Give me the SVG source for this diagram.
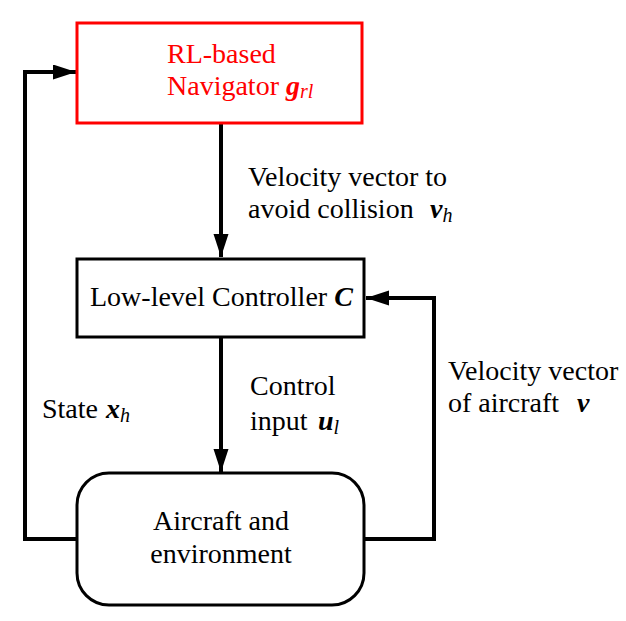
<svg xmlns="http://www.w3.org/2000/svg" width="626" height="621" viewBox="0 0 626 621" font-family="'Liberation Serif', 'Times New Roman', 'DejaVu Serif', serif">
<defs>
<style>
text{font-family:'Liberation Serif','Times New Roman','DejaVu Serif',serif;font-size:28px;fill:#000}
.red{fill:#ff0000}
.m{font-weight:bold;font-style:italic}
.s{font-style:italic;font-size:20px}
.box{fill:#fff;stroke:#000;stroke-width:3}
.line{fill:none;stroke:#000;stroke-width:4}
</style>
<marker id="ah" markerUnits="userSpaceOnUse" markerWidth="24" markerHeight="16" refX="23" refY="7.5" orient="auto">
<path d="M0,0 L23,7.5 L0,15 Z" fill="#000"/>
</marker>
</defs>
<rect width="626" height="621" fill="#fff"/>
<g id="connectors">
<path class="line" d="M221,124 V257" marker-end="url(#ah)"/>
<path class="line" d="M221,338 V472" marker-end="url(#ah)"/>
<path class="line" d="M77,539 H25 V72 H76" marker-end="url(#ah)"/>
<path class="line" d="M364,539 H434 V298 H366" marker-end="url(#ah)"/>
</g>
<g id="navigator">
<rect x="77" y="23" width="285" height="100" fill="#fff" stroke="#ff0000" stroke-width="3"/>
<text class="red" x="167" y="63">RL-based</text>
<text class="red" x="167" y="95">Navigator <tspan class="m">g</tspan><tspan class="s" dy="3">rl</tspan></text>
</g>
<g id="controller">
<rect class="box" x="77" y="259" width="287" height="78"/>
<text x="90" y="306">Low-level Controller <tspan class="m">C</tspan></text>
</g>
<g id="aircraft">
<rect class="box" x="77" y="473" width="287" height="132" rx="32" ry="32"/>
<text x="221" y="530" text-anchor="middle">Aircraft and</text>
<text x="221" y="563" text-anchor="middle">environment</text>
</g>
<g id="labels">
<text x="248" y="186">Velocity vector to</text>
<text x="248" y="218">avoid collision<tspan class="m" x="430">v</tspan><tspan class="s" dy="4">h</tspan></text>
<text x="250" y="395">Control</text>
<text x="250" y="430">input<tspan class="m" x="318">u</tspan><tspan class="s" dy="4">l</tspan></text>
<text x="42" y="418">State<tspan class="m" x="106">x</tspan><tspan class="s" dy="4">h</tspan></text>
<text x="448" y="380">Velocity vector</text>
<text x="448" y="412">of aircraft<tspan class="m" x="577">v</tspan></text>
</g>
</svg>
